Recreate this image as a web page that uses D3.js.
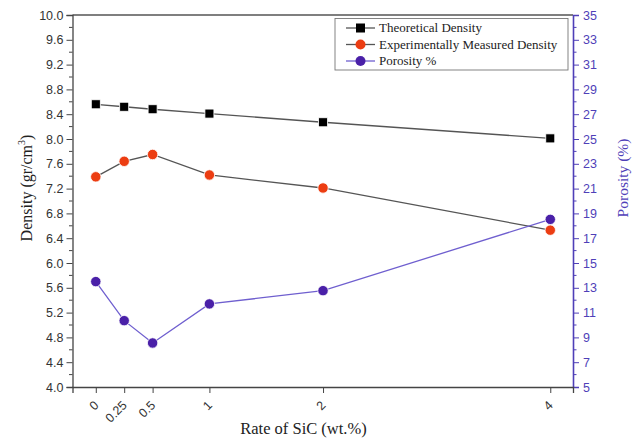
<!DOCTYPE html>
<html>
<head>
<meta charset="utf-8">
<script src="https://cdn.jsdelivr.net/npm/d3@7"></script>
<style>
  html, body { margin: 0; padding: 0; background: #fff; }
  svg { display: block; }
</style>
</head>
<body>
<svg id="chart" width="639" height="441"></svg>
<script>
// SiC content (wt.%) and measured properties
const sicRate = [0, 0.25, 0.5, 1, 2, 4];
const sicTickLabels = ["0", "0.25", "0.5", "1", "2", "4"];
const theoreticalDensity = [8.56, 8.52, 8.48, 8.41, 8.27, 8.01];
const measuredDensity = [7.39, 7.64, 7.75, 7.42, 7.21, 6.53];
const porosity = [13.5, 10.35, 8.55, 11.7, 12.77, 18.52];
const seriesNames = ["Theoretical Density", "Experimentally Measured Density", "Porosity %"];

const svg = d3.select("#chart");
const M = { left: 72.5, right: 573, top: 15, bottom: 387 };
const sansFont = "'Liberation Sans', Arial, sans-serif";
const serifFont = "'Liberation Serif', 'Times New Roman', serif";
const axisBlue = "#4f3fb8";
const purpleLine = "#6f5fcf";
const purpleDot = "#4a20a8";
const redDot = "#ec3d12";
const greyLine = "#555";

const x = d3.scaleLinear().domain([-0.205, 4.2]).range([M.left, M.right]);
const yL = d3.scaleLinear().domain([4, 10]).range([M.bottom, M.top]);
const yR = d3.scaleLinear().domain([5, 35]).range([M.bottom, M.top]);

// Frame: top border
svg.append("line").attr("x1", M.left).attr("x2", M.right).attr("y1", M.top).attr("y2", M.top)
  .attr("stroke", "#555").attr("stroke-width", 1.3);

// Left axis: major ticks every 0.4 with minor ticks in between
const leftMajor = d3.range(0, 16).map(i => +(4 + i * 0.4).toFixed(1));
const leftMinor = d3.range(0, 30).map(i => +(4.2 + i * 0.4).toFixed(1)).filter(v => v < 10);
const gL = svg.append("g").attr("transform", `translate(${M.left},0)`);
gL.call(d3.axisLeft(yL).tickValues(leftMajor).tickFormat(d3.format(".1f")).tickSize(6).tickPadding(3));
gL.selectAll(".minor").data(leftMinor).enter().append("line").attr("class", "minor")
  .attr("x1", -3.5).attr("x2", 0).attr("y1", d => yL(d)).attr("y2", d => yL(d)).attr("stroke", "#444");
gL.select(".domain").attr("stroke", "#444").attr("stroke-width", 1.3);
gL.selectAll(".tick line").attr("stroke", "#444");
gL.selectAll("text").attr("font-family", sansFont).attr("font-size", 12.5).attr("fill", "#333");

// Right axis: porosity, major every 2, minor every 1
const rightMajor = d3.range(5, 36, 2);
const rightMinor = d3.range(6, 35, 2);
const gR = svg.append("g").attr("transform", `translate(${M.right},0)`);
gR.call(d3.axisRight(yR).tickValues(rightMajor).tickSize(6).tickPadding(4));
gR.selectAll(".minor").data(rightMinor).enter().append("line").attr("class", "minor")
  .attr("x1", 0).attr("x2", 3.5).attr("y1", d => yR(d)).attr("y2", d => yR(d)).attr("stroke", axisBlue);
gR.select(".domain").attr("stroke", axisBlue).attr("stroke-width", 1.6);
gR.selectAll(".tick line").attr("stroke", axisBlue);
gR.selectAll("text").attr("font-family", sansFont).attr("font-size", 12.5).attr("fill", axisBlue);

// Bottom axis with ticks only at the tested SiC contents
const gB = svg.append("g").attr("transform", `translate(0,${M.bottom})`);
gB.call(d3.axisBottom(x).tickValues(sicRate).tickFormat((d, i) => sicTickLabels[i]).tickSize(6).tickPadding(4));
gB.select(".domain").attr("stroke", "#444").attr("stroke-width", 1.3);
gB.selectAll(".tick line").attr("stroke", "#444");
gB.selectAll("text")
  .attr("font-family", sansFont).attr("font-size", 12.5).attr("fill", "#333")
  .attr("text-anchor", "end").attr("x", 0).attr("y", 0).attr("dy", null)
  .attr("transform", "translate(3,19) rotate(-45)");

// Series lines
const lineL = d3.line().x((d, i) => x(sicRate[i])).y(d => yL(d));
const lineR = d3.line().x((d, i) => x(sicRate[i])).y(d => yR(d));
svg.append("path").datum(theoreticalDensity).attr("d", lineL).attr("fill", "none").attr("stroke", greyLine).attr("stroke-width", 1.3);
svg.append("path").datum(measuredDensity).attr("d", lineL).attr("fill", "none").attr("stroke", greyLine).attr("stroke-width", 1.3);
svg.append("path").datum(porosity).attr("d", lineR).attr("fill", "none").attr("stroke", purpleLine).attr("stroke-width", 1.3);

// Markers
const sq = 9;
svg.selectAll(".theo").data(theoreticalDensity).enter().append("rect").attr("class", "theo")
  .attr("x", (d, i) => x(sicRate[i]) - sq / 2).attr("y", d => yL(d) - sq / 2)
  .attr("width", sq).attr("height", sq).attr("fill", "#000").attr("stroke", "#fff").attr("stroke-width", 0.8);
svg.selectAll(".meas").data(measuredDensity).enter().append("circle").attr("class", "meas")
  .attr("cx", (d, i) => x(sicRate[i])).attr("cy", d => yL(d)).attr("r", 5.2)
  .attr("fill", redDot).attr("stroke", "#fff").attr("stroke-width", 0.8);
svg.selectAll(".poro").data(porosity).enter().append("circle").attr("class", "poro")
  .attr("cx", (d, i) => x(sicRate[i])).attr("cy", d => yR(d)).attr("r", 5.2)
  .attr("fill", purpleDot).attr("stroke", "#fff").attr("stroke-width", 0.8);

// Axis titles
const yTitle = svg.append("text").attr("transform", "translate(32,188) rotate(-90)")
  .attr("text-anchor", "middle").attr("font-family", serifFont).attr("font-size", 16).attr("fill", "#222");
yTitle.append("tspan").text("Density (gr/cm");
yTitle.append("tspan").attr("font-size", 10).attr("dy", -7).text("3");
yTitle.append("tspan").attr("dy", 7).text(")");

svg.append("text").attr("x", 303.5).attr("y", 434).attr("text-anchor", "middle")
  .attr("font-family", serifFont).attr("font-size", 16.5).attr("fill", "#222").text("Rate of SiC (wt.%)");

svg.append("text").attr("transform", "translate(628,178) rotate(-90)").attr("text-anchor", "middle")
  .attr("font-family", serifFont).attr("font-size", 15.5).attr("fill", axisBlue).text("Porosity (%)");

// Legend
const lg = svg.append("g");
lg.append("rect").attr("x", 335).attr("y", 18.5).attr("width", 233).attr("height", 51.5)
  .attr("fill", "#fff").attr("stroke", "#777").attr("stroke-width", 0.9);
const legendRows = [
  { name: seriesNames[0], line: greyLine, shape: "square", fill: "#000" },
  { name: seriesNames[1], line: greyLine, shape: "circle", fill: redDot },
  { name: seriesNames[2], line: purpleLine, shape: "circle", fill: purpleDot }
];
legendRows.forEach((r, i) => {
  const cy = 28 + i * 16.5;
  lg.append("line").attr("x1", 346).attr("x2", 375).attr("y1", cy).attr("y2", cy)
    .attr("stroke", r.line).attr("stroke-width", 1.3);
  if (r.shape === "square") {
    lg.append("rect").attr("x", 360.5 - 4.5).attr("y", cy - 4.5).attr("width", 9).attr("height", 9).attr("fill", r.fill);
  } else {
    lg.append("circle").attr("cx", 360.5).attr("cy", cy).attr("r", 5).attr("fill", r.fill);
  }
  lg.append("text").attr("x", 379).attr("y", cy + 4.3).attr("font-family", serifFont)
    .attr("font-size", 13).attr("fill", "#222").text(r.name);
});
</script>
</body>
</html>
